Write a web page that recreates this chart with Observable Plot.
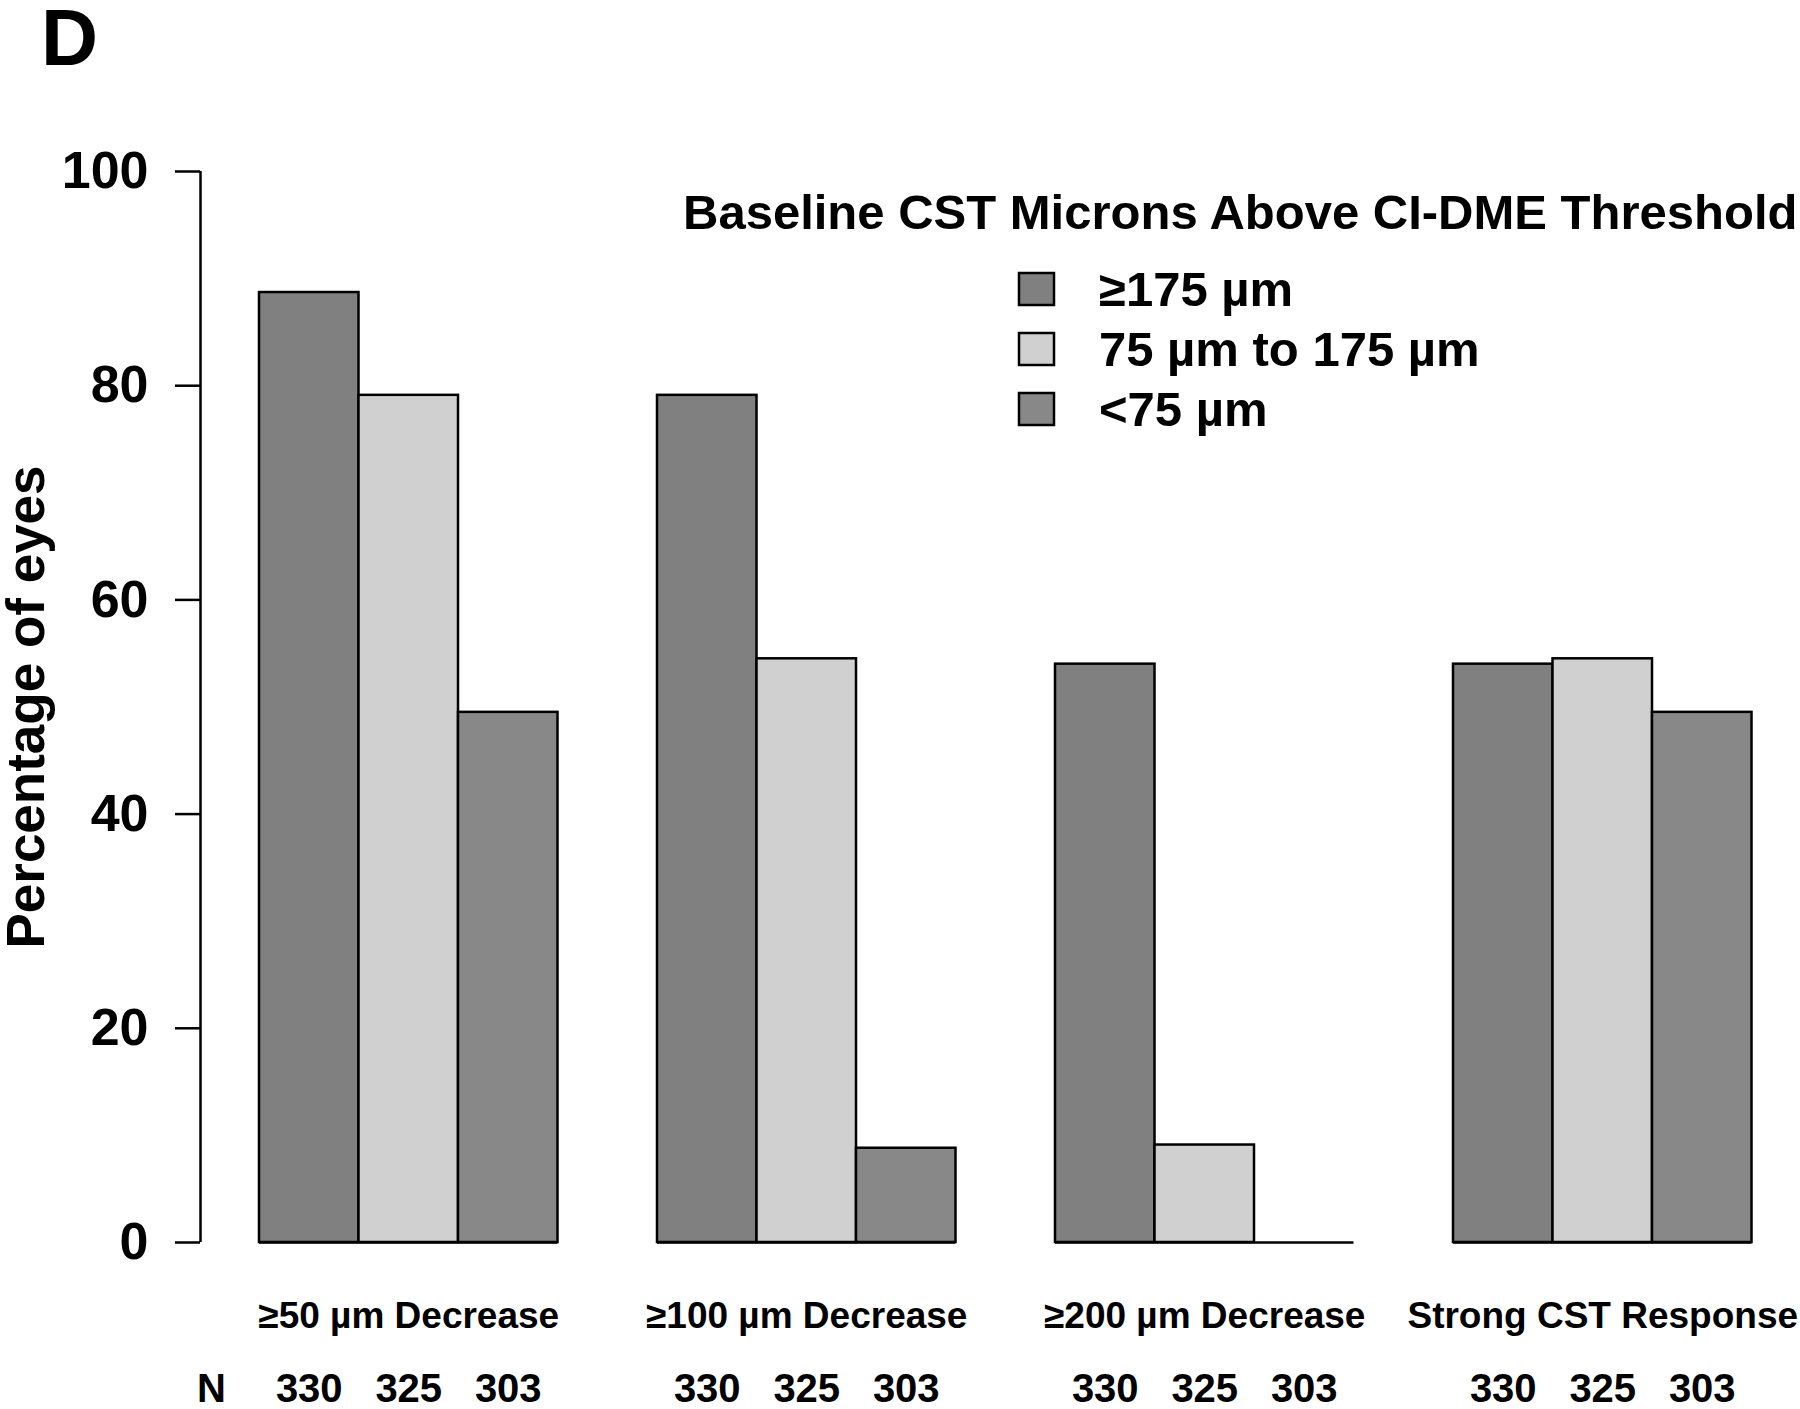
<!DOCTYPE html>
<html><head><meta charset="utf-8">
<script src="https://cdn.jsdelivr.net/npm/d3@7"></script>
<script src="https://cdn.jsdelivr.net/npm/@observablehq/plot@0.6"></script>
<style>
body{margin:0;background:#fff;}
#wrap{position:relative;width:1800px;height:1409px;}
#wrap svg{position:absolute;left:0;top:0;}
</style></head>
<body><div id="wrap"></div>
<script>
const panelLabel = "D";
const yLabel = "Percentage of eyes";
const legendTitle = "Baseline CST Microns Above CI-DME Threshold";
const groups = ["≥50 µm Decrease", "≥100 µm Decrease", "≥200 µm Decrease", "Strong CST Response"];
const series = ["≥175 µm", "75 µm to 175 µm", "<75 µm"];
const seriesColors = ["#808080", "#d0d0d0", "#888888"];
const nCounts = ["330", "325", "303"];
const val175 = [88.7, 79.1, 54.0, 54.0];
const val75to175 = [79.1, 54.5, 9.1, 54.5];
const valLt75 = [49.5, 8.8, 0, 49.5];
const yTicks = [0, 20, 40, 60, 80, 100];

const FONT = '"Liberation Sans", Arial, Helvetica, sans-serif';
const seriesValues = [val175, val75to175, valLt75];

// bars: each group occupies 3 slots, preceded by one empty slot
const bars = [];
groups.forEach((g, gi) => {
  series.forEach((s, si) => {
    const slot = gi * 4 + 1 + si;
    bars.push({group: g, series: s, value: seriesValues[si][gi], x1: slot, x2: slot + 1, n: nCounts[si]});
  });
});
const groupCenters = groups.map((g, gi) => ({label: g, x: gi * 4 + 2.5}));

const plot = Plot.plot({
  width: 1800,
  height: 1409,
  marginLeft: 200,
  marginRight: 48,
  marginTop: 171,
  marginBottom: 167,
  style: {fontFamily: FONT, fontWeight: "bold", background: "white", color: "black"},
  x: {domain: [0, 16], range: [159.5, 1751.5], axis: null},
  y: {domain: [0, 100], axis: null},
  color: {domain: series, range: seriesColors},
  marks: [
    Plot.rectY(bars, {x1: "x1", x2: "x2", y1: 0, y2: "value", fill: "series", stroke: "black", strokeWidth: 2.5}),
    Plot.ruleY(bars, {x1: "x1", x2: "x2", y: 0, stroke: "black", strokeWidth: 2.5}),
    Plot.axisY({ticks: yTicks, tickSize: 25, tickPadding: 27, fontSize: 52, fontWeight: "bold", stroke: "black", strokeWidth: 2.5, label: null, fill: "black"}),
    Plot.ruleX([0], {y1: 0, y2: 100, dx: 40.5, stroke: "black", strokeWidth: 2.5}),
    Plot.text([yLabel], {frameAnchor: "left", rotate: -90, dx: -173, textAnchor: "middle", fontSize: 53, fontWeight: "bold", fill: "black"}),
    Plot.text(groupCenters, {x: "x", text: "label", frameAnchor: "bottom", dy: 74, fontSize: 37, fontWeight: "bold", fill: "black", lineAnchor: "middle"}),
    Plot.text(bars, {x: d => (d.x1 + d.x2) / 2, text: "n", frameAnchor: "bottom", dy: 147, fontSize: 40, fontWeight: "bold", fill: "black", lineAnchor: "middle"}),
    Plot.text(["N"], {frameAnchor: "bottom-left", dx: 11, dy: 147, fontSize: 40, fontWeight: "bold", fill: "black", lineAnchor: "middle", textAnchor: "middle"})
  ]
});
document.getElementById("wrap").appendChild(plot);

// overlay: panel letter and legend
const ov = d3.select("#wrap").append("svg")
  .attr("width", 1800).attr("height", 1409)
  .style("font-family", FONT).style("font-weight", "bold");
ov.append("text").attr("x", 41).attr("y", 65).attr("font-size", 79).text(panelLabel);
ov.append("text").attr("x", 683).attr("y", 229).attr("font-size", 49).text(legendTitle);
series.forEach((s, i) => {
  const cy = 289 + i * 60;
  ov.append("rect").attr("x", 1019).attr("y", cy - 16).attr("width", 35).attr("height", 32)
    .attr("fill", seriesColors[i]).attr("stroke", "black").attr("stroke-width", 2.5);
  ov.append("text").attr("x", 1099).attr("y", cy + 17).attr("font-size", 49).text(s);
});
</script>
</body></html>
